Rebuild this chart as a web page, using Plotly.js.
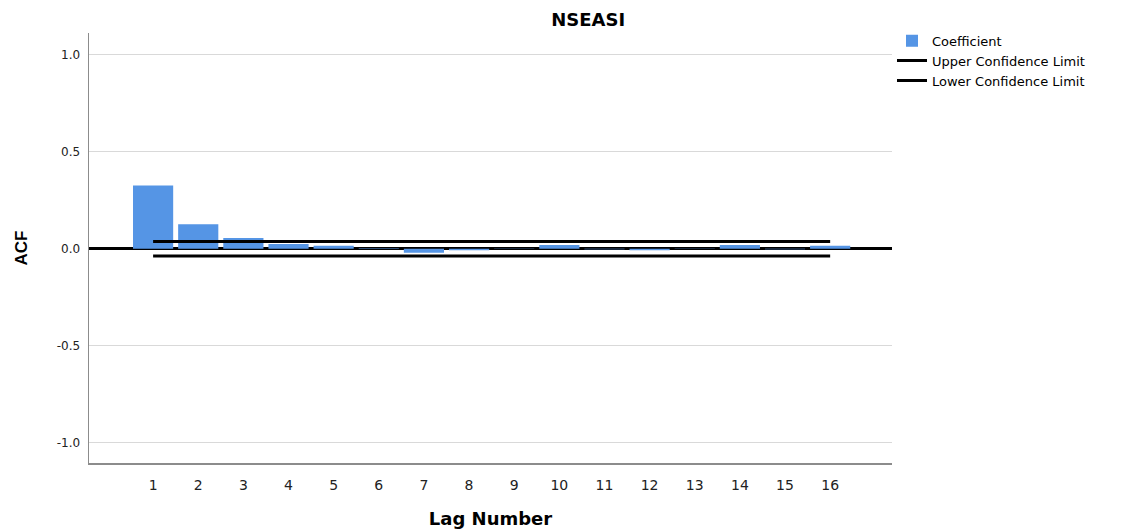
<!DOCTYPE html>
<html>
<head>
<meta charset="utf-8">
<script src="https://cdn.plot.ly/plotly-3.0.1.min.js"></script>
<style>html,body{margin:0;padding:0;background:#fff;}#chart{width:1129px;height:529px;}</style>
</head>
<body>
<div id="chart"></div>
<script>
const lags = [1,2,3,4,5,6,7,8,9,10,11,12,13,14,15,16];
const coefficient = [0.326,0.127,0.055,0.024,0.015,0.003,-0.020,-0.008,0.002,0.020,-0.003,-0.008,0.002,0.020,-0.002,0.015];
const upperLimit = [0.038,0.038,0.038,0.038,0.038,0.038,0.038,0.038,0.038,0.038,0.038,0.038,0.038,0.038,0.038,0.038];
const lowerLimit = [-0.037,-0.037,-0.037,-0.037,-0.037,-0.037,-0.037,-0.037,-0.037,-0.037,-0.037,-0.037,-0.037,-0.037,-0.037,-0.037];
const yTickVals = [-1,-0.5,0,0.5,1];
const yTickText = ['-1.0','-0.5','0.0','0.5','1.0'];
const xTickText = ['1','2','3','4','5','6','7','8','9','10','11','12','13','14','15','16'];

const traces = [
  {type:'bar', x:lags, y:coefficient, name:'Coefficient',
   marker:{color:'#5595e5', line:{width:0}}},
  {type:'scatter', mode:'lines', x:lags, y:upperLimit, name:'Upper Confidence Limit',
   line:{color:'#000', width:3}},
  {type:'scatter', mode:'lines', x:lags, y:lowerLimit, name:'Lower Confidence Limit',
   line:{color:'#000', width:3}}
];

const layout = {
  width:1129, height:529,
  margin:{l:89, r:237, t:33, b:66, pad:0},
  paper_bgcolor:'#fff', plot_bgcolor:'#fff',
  bargap:0.11,
  showlegend:true,
  title:{text:'NSEASI', x:0.521, xref:'container', xanchor:'center', y:0.962, yref:'container', yanchor:'middle',
         font:{family:'DejaVu Sans', size:18, color:'#000', weight:'bold'}},
  xaxis:{range:[-0.42,17.37], tickvals:lags, ticktext:xTickText, ticks:'', showgrid:false, zeroline:false,
         showline:true, linecolor:'#8c8c8c', linewidth:1.5, ticklabelstandoff:9,
         tickfont:{family:'DejaVu Sans', size:14, color:'#222'},
         title:{text:'Lag Number', standoff:20, font:{family:'DejaVu Sans', size:18, color:'#000', weight:'bold'}}},
  yaxis:{range:[-1.105,1.113], tickvals:yTickVals, ticktext:yTickText, ticks:'', showgrid:true, gridcolor:'#d9d9d9', gridwidth:1,
         zeroline:true, zerolinecolor:'#000', zerolinewidth:3, layer:'above traces',
         showline:true, linecolor:'#8c8c8c', linewidth:1.5, ticklabelstandoff:5,
         tickfont:{family:'DejaVu Sans', size:12, color:'#222'},
         title:{text:'ACF', standoff:24, font:{family:'Liberation Sans', size:17, color:'#000', weight:'bold'}}},
  legend:{x:1.0, xanchor:'left', y:1.017, yanchor:'top', bgcolor:'rgba(0,0,0,0)',
          font:{family:'DejaVu Sans', size:13, color:'#000'}, tracegroupgap:0, traceorder:'normal'}
};

Plotly.newPlot('chart', traces, layout, {displayModeBar:false, staticPlot:true});
</script>
</body>
</html>
